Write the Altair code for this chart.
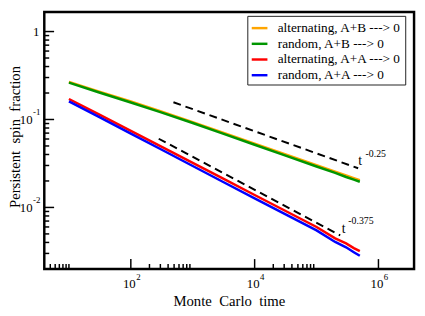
import altair as alt
import pandas as pd

# ---------------- data ----------------
names = ["alternating, A+B ---> 0", "random, A+B ---> 0",
         "alternating, A+A ---> 0", "random, A+A ---> 0"]
colors = ["#ffa500", "#009600", "#ff0000", "#0000ff"]

t_vals = [10, 30, 100, 300, 1000, 3000, 1e4, 3e4, 1e5, 2e5, 3e5, 4e5, 5e5]
alt_AB = [0.268, 0.209, 0.160, 0.1245, 0.0935, 0.0715, 0.0532, 0.0406, 0.0303, 0.0256, 0.0231, 0.0215, 0.0204]
rnd_AB = [0.262, 0.204, 0.156, 0.1215, 0.0912, 0.0695, 0.0516, 0.0393, 0.0292, 0.0247, 0.0222, 0.0207, 0.0196]
alt_AA = [0.171, 0.115, 0.0741, 0.0498, 0.0321, 0.0215, 0.01386, 0.00929, 0.0060, 0.00445, 0.0039, 0.00345, 0.00318]
rnd_AA = [0.161, 0.108, 0.0690, 0.0462, 0.0296, 0.0197, 0.0127, 0.0085, 0.00549, 0.00405, 0.00352, 0.00310, 0.00282]

# guide lines t^-0.25 and t^-0.375
guide_id = ["g1", "g1", "g2", "g2"]
guide_t = [488, 4.7e5, 282, 2.41e5]
guide_p = [0.157, 0.0279, 0.0604, 0.00482]

# annotations
ann_t = [4.7e5, 2.55e5]
ann_p = [0.0304, 0.00517]
ann_text = ["t", "t"]
ann_exp_t = [6.2e5, 3.26e5]
ann_exp_p = [0.0378, 0.00651]
ann_exp = ["-0.25", "-0.375"]

# ticks
x_major = [1e2, 1e4, 1e6]
x_major_exp = ["2", "4", "6"]
x_minor = [5, 6, 7, 8, 9, 10,
           200, 300, 400, 500, 600, 700, 800, 900,
           2e4, 3e4, 4e4, 5e4, 6e4, 7e4, 8e4, 9e4]
y_major = [1, 0.1, 0.01]
y_minor = [0.003, 0.004, 0.005, 0.006, 0.007, 0.008, 0.009,
           0.02, 0.03, 0.04, 0.05, 0.06, 0.07, 0.08, 0.09,
           0.2, 0.3, 0.4, 0.5, 0.6, 0.7, 0.8, 0.9]
y_plain_vals = [1]
y_plain_text = ["1"]
y_pow_vals = [0.1, 0.01]
y_pow_exp = ["-1", "-2"]

# ---------------- frames ----------------
rows = []
for nm, vals in zip(names, [alt_AB, rnd_AB, alt_AA, rnd_AA]):
    for t, v in zip(t_vals, vals):
        rows.append({"series": nm, "t": t, "p": v})
df = pd.DataFrame(rows)
gdf = pd.DataFrame({"g": guide_id, "t": guide_t, "p": guide_p})

W, H = 377, 262
FONT = "Liberation Serif, Times New Roman, serif"
xs = alt.Scale(type="log", domain=[4, 3.76e6], nice=False)
ys = alt.Scale(type="log", domain=[0.002, 1.671], nice=False)


def X(f):
    return alt.X(f, scale=xs, axis=None)


def Y(f):
    return alt.Y(f, scale=ys, axis=None)


lines = alt.Chart(df).mark_line(strokeWidth=2.5).encode(
    x=X("t:Q"), y=Y("p:Q"),
    color=alt.Color("series:N",
                    scale=alt.Scale(domain=names, range=colors),
                    legend=alt.Legend(title=None, orient="none", legendX=207, legendY=4,
                                      fillColor="white", strokeColor="#222", padding=3,
                                      symbolType="stroke", symbolSize=256, symbolStrokeWidth=2.5,
                                      labelFont=FONT, labelFontSize=13.5, labelColor="black",
                                      labelOffset=9, rowPadding=0, labelLimit=300)),
)

guides = alt.Chart(gdf).mark_line(color="black", strokeWidth=2, strokeDash=[8, 5]).encode(
    x=X("t:Q"), y=Y("p:Q"), detail="g:N")

ann = alt.Chart(pd.DataFrame({"t": ann_t, "p": ann_p, "s": ann_text})).mark_text(
    font=FONT, fontSize=14, align="left", baseline="alphabetic", color="black").encode(
    x=X("t:Q"), y=Y("p:Q"), text="s:N")
ann_sup = alt.Chart(pd.DataFrame({"t": ann_exp_t, "p": ann_exp_p, "s": ann_exp})).mark_text(
    font=FONT, fontSize=10, align="left", baseline="alphabetic", color="black").encode(
    x=X("t:Q"), y=Y("p:Q"), text="s:N")

tick_style = dict(color="black", strokeWidth=1.5)
xmaj = alt.Chart(pd.DataFrame({"v": x_major})).mark_rule(**tick_style).encode(
    x=X("v:Q"), y=alt.value(H), y2=alt.value(H - 10))
xmin = alt.Chart(pd.DataFrame({"v": x_minor})).mark_rule(**tick_style).encode(
    x=X("v:Q"), y=alt.value(H), y2=alt.value(H - 5))
ymaj = alt.Chart(pd.DataFrame({"v": y_major})).mark_rule(**tick_style).encode(
    y=Y("v:Q"), x=alt.value(0), x2=alt.value(10))
ymin = alt.Chart(pd.DataFrame({"v": y_minor})).mark_rule(**tick_style).encode(
    y=Y("v:Q"), x=alt.value(0), x2=alt.value(5))

xlab_df = pd.DataFrame({"v": x_major, "b": ["10"] * 3, "e": x_major_exp})
xlab = alt.Chart(xlab_df).mark_text(font=FONT, fontSize=13, align="right", baseline="alphabetic",
                                    dx=5, color="black").encode(
    x=X("v:Q"), y=alt.value(281.5), text="b:N")
xlab_e = alt.Chart(xlab_df).mark_text(font=FONT, fontSize=9, align="left", baseline="alphabetic",
                                      dx=5.5, color="black").encode(
    x=X("v:Q"), y=alt.value(273.7), text="e:N")

ylab_plain = alt.Chart(pd.DataFrame({"v": y_plain_vals, "s": y_plain_text})).mark_text(
    font=FONT, fontSize=13, align="right", baseline="alphabetic", dy=4.5, color="black").encode(
    y=Y("v:Q"), x=alt.value(-5), text="s:N")
ypow_df = pd.DataFrame({"v": y_pow_vals, "b": ["10"] * 2, "e": y_pow_exp})
ylab_b = alt.Chart(ypow_df).mark_text(font=FONT, fontSize=13, align="right", baseline="alphabetic",
                                      dy=4.7, color="black").encode(
    y=Y("v:Q"), x=alt.value(-12), text="b:N")
ylab_e = alt.Chart(ypow_df).mark_text(font=FONT, fontSize=9, align="left", baseline="alphabetic",
                                      dy=-5, color="black").encode(
    y=Y("v:Q"), x=alt.value(-11.5), text="e:N")

title_df = pd.DataFrame({"xt": ["Monte\u2002Carlo\u2002time"], "yt": ["Persistent\u2002spin\u2002fraction"]})
xtitle = alt.Chart(title_df).mark_text(font=FONT, fontSize=15, align="center", baseline="alphabetic",
                                       color="black").encode(
    x=alt.value(188.7), y=alt.value(299.5), text="xt:N")
ytitle = alt.Chart(title_df).mark_text(font=FONT, fontSize=15, align="center", baseline="alphabetic",
                                       angle=270, color="black").encode(
    x=alt.value(-24.5), y=alt.value(127.5), text="yt:N")

chart = alt.layer(
    xmin, xmaj, ymin, ymaj, guides, lines, ann, ann_sup,
    xlab, xlab_e, ylab_plain, ylab_b, ylab_e, xtitle, ytitle
).properties(
    width=W, height=H,
    autosize=alt.AutoSizeParams(type="none"),
    padding={"left": 37, "top": 1, "right": 3, "bottom": 45},
).configure_view(
    stroke="black", strokeWidth=2.5, strokeOpacity=1
).configure_legend(
    labelFont=FONT, labelFontSize=13.5, labelColor="black"
)

chart.save("out.html", embed_options={"renderer": "svg", "actions": False})
